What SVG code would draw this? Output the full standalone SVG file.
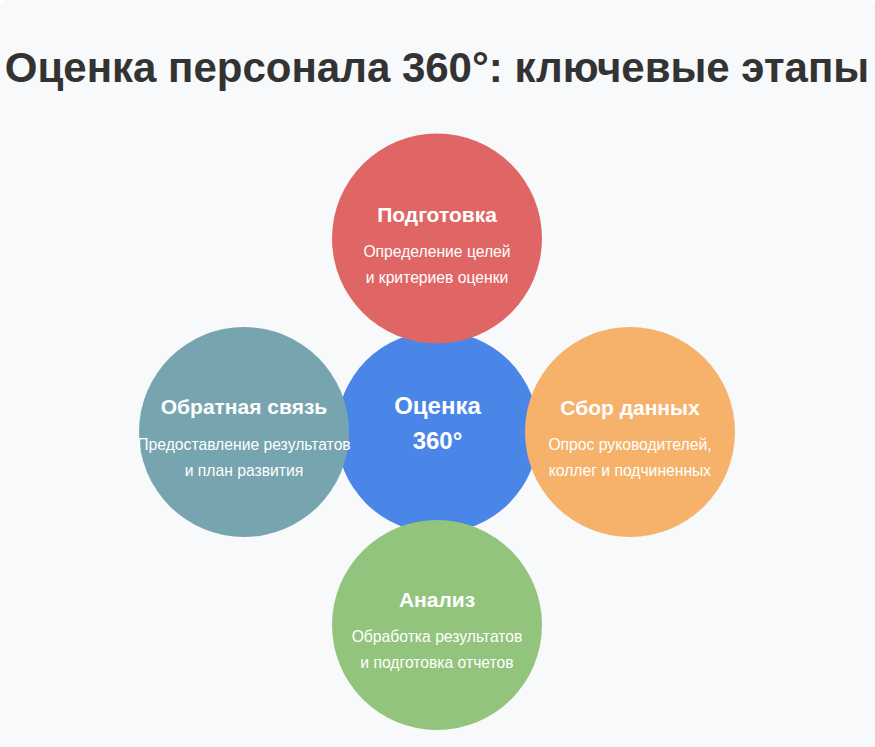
<svg xmlns="http://www.w3.org/2000/svg" width="875" height="747" viewBox="0 0 875 747">
  <style>
    .title { font-family: "Liberation Sans", Arial, sans-serif; font-weight: bold; font-size: 42px; fill: #333333; text-anchor: middle; }
    .head { font-family: "Liberation Sans", Arial, sans-serif; font-weight: bold; font-size: 21px; fill: #ffffff; text-anchor: middle; }
    .sub { font-family: "Liberation Sans", Arial, sans-serif; font-size: 15.7px; fill: #ffffff; text-anchor: middle; }
    .center { font-family: "Liberation Sans", Arial, sans-serif; font-weight: bold; font-size: 24px; fill: #ffffff; text-anchor: middle; }
  </style>
  <rect x="0" y="0" width="875" height="747" fill="#ffffff"/>
  <rect x="0" y="0" width="875" height="770" rx="8" ry="8" fill="#f8f9fa"/>
  <text class="title" x="437" y="82">Оценка персонала 360°: ключевые этапы</text>
  <g id="connectors"></g>
  <g id="node-center">
    <circle cx="437.5" cy="432" r="101" fill="#4a86e8"/>
    <text class="center" x="437.5" y="414">Оценка</text>
    <text class="center" x="437.5" y="449">360°</text>
  </g>
  <g id="node-prep">
    <circle cx="437" cy="238.5" r="105" fill="#e06666"/>
    <text class="head" x="437" y="222">Подготовка</text>
    <text class="sub" x="437" y="257">Определение целей</text>
    <text class="sub" x="437" y="283">и критериев оценки</text>
  </g>
  <g id="node-collect">
    <circle cx="630" cy="432" r="105" fill="#f6b26b"/>
    <text class="head" x="630" y="415">Сбор данных</text>
    <text class="sub" x="630" y="450">Опрос руководителей,</text>
    <text class="sub" x="630" y="476">коллег и подчиненных</text>
  </g>
  <g id="node-analysis">
    <circle cx="437" cy="625" r="105" fill="#93c47d"/>
    <text class="head" x="437" y="607">Анализ</text>
    <text class="sub" x="437" y="642">Обработка результатов</text>
    <text class="sub" x="437" y="668">и подготовка отчетов</text>
  </g>
  <g id="node-feedback">
    <circle cx="244" cy="432" r="105" fill="#76a5af"/>
    <text class="head" x="244" y="414">Обратная связь</text>
    <text class="sub" x="244" y="450">Предоставление результатов</text>
    <text class="sub" x="244" y="476">и план развития</text>
  </g>
</svg>
